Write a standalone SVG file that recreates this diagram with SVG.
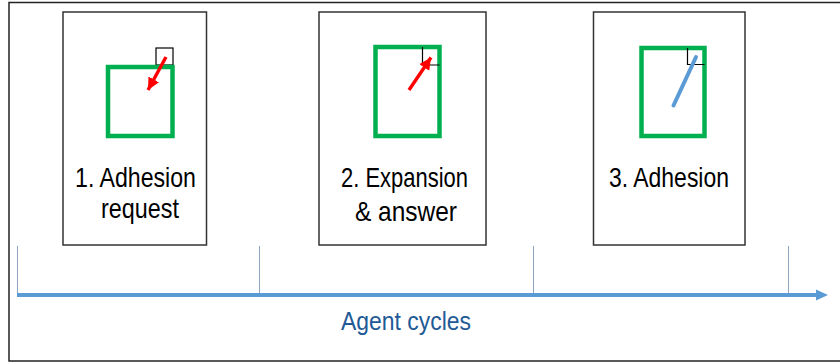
<svg xmlns="http://www.w3.org/2000/svg" width="840" height="362" viewBox="0 0 840 362">
  <style>
    .frame { fill: #ffffff; stroke: #222222; stroke-width: 1.5; }
    .card { fill: #ffffff; stroke: #333333; stroke-width: 1.5; }
    .cell { fill: none; stroke: #00b050; stroke-width: 4.5; }
    .corner { fill: none; stroke: #000000; stroke-width: 1.2; }
    .move { stroke: #ff0000; stroke-width: 3.4; stroke-linecap: butt; fill: none; }
    .link { stroke: #5b9bd5; stroke-width: 4; stroke-linecap: round; fill: none; }
    .tick { stroke: #8da6bd; stroke-width: 1; }
    .axis { stroke: #5b9bd5; stroke-width: 4; }
    .label { font-family: "Liberation Sans", Arial, sans-serif; font-size: 28px; fill: #000000; }
    .axislabel { font-family: "Liberation Sans", Arial, sans-serif; font-size: 25px; fill: #1f5a96; }
  </style>
  <defs>
    <marker id="redhead" markerUnits="userSpaceOnUse" markerWidth="16" markerHeight="14" refX="12" refY="6" orient="auto">
      <path d="M0,0 L12,6 L0,12 Z" fill="#ff0000"/>
    </marker>
  </defs>

  <!-- outer frame -->
  <rect class="frame" x="9" y="2.5" width="840" height="358.5"/>

  <!-- step 1: adhesion request -->
  <g id="step1">
    <rect class="card" x="63" y="12" width="143.5" height="233"/>
    <rect class="corner" x="156" y="48" width="17" height="17"/>
    <rect class="cell" x="108" y="67" width="64.5" height="69"/>
    <line class="move" x1="166" y1="57" x2="148" y2="90" marker-end="url(#redhead)"/>
    <text class="label" x="75" y="187" textLength="121" lengthAdjust="spacingAndGlyphs">1. Adhesion</text>
    <text class="label" x="101" y="218" textLength="78" lengthAdjust="spacingAndGlyphs">request</text>
  </g>

  <!-- step 2: expansion & answer -->
  <g id="step2">
    <rect class="card" x="319" y="12" width="167" height="233"/>
    <rect class="cell" x="375.5" y="47" width="64" height="89"/>
    <polyline class="corner" points="422.5,47 422.5,65 439.5,65"/>
    <line class="move" x1="409" y1="90" x2="431" y2="57.5" marker-end="url(#redhead)"/>
    <text class="label" x="341" y="187" textLength="127" lengthAdjust="spacingAndGlyphs">2. Expansion</text>
    <text class="label" x="355" y="221" textLength="102" lengthAdjust="spacingAndGlyphs">&amp; answer</text>
  </g>

  <!-- step 3: adhesion -->
  <g id="step3">
    <rect class="card" x="593.5" y="12" width="151.5" height="233"/>
    <rect class="cell" x="641.5" y="48" width="63" height="88"/>
    <polyline class="corner" points="687.5,48 687.5,64.5 704.5,64.5"/>
    <line class="link" x1="696" y1="57" x2="673.5" y2="105.5"/>
    <text class="label" x="609" y="187" textLength="120" lengthAdjust="spacingAndGlyphs">3. Adhesion</text>
  </g>

  <!-- time axis -->
  <g id="axis">
    <line class="tick" x1="17.5" y1="246" x2="17.5" y2="293"/>
    <line class="tick" x1="259.5" y1="246" x2="259.5" y2="293"/>
    <line class="tick" x1="533.5" y1="246" x2="533.5" y2="293"/>
    <line class="tick" x1="788.5" y1="246" x2="788.5" y2="293"/>
    <line class="axis" x1="17" y1="295" x2="817" y2="295"/>
    <path d="M816,289.5 L828,295 L816,300.5 Z" fill="#5b9bd5"/>
    <text class="axislabel" x="341" y="330" textLength="130" lengthAdjust="spacingAndGlyphs">Agent cycles</text>
  </g>
</svg>
